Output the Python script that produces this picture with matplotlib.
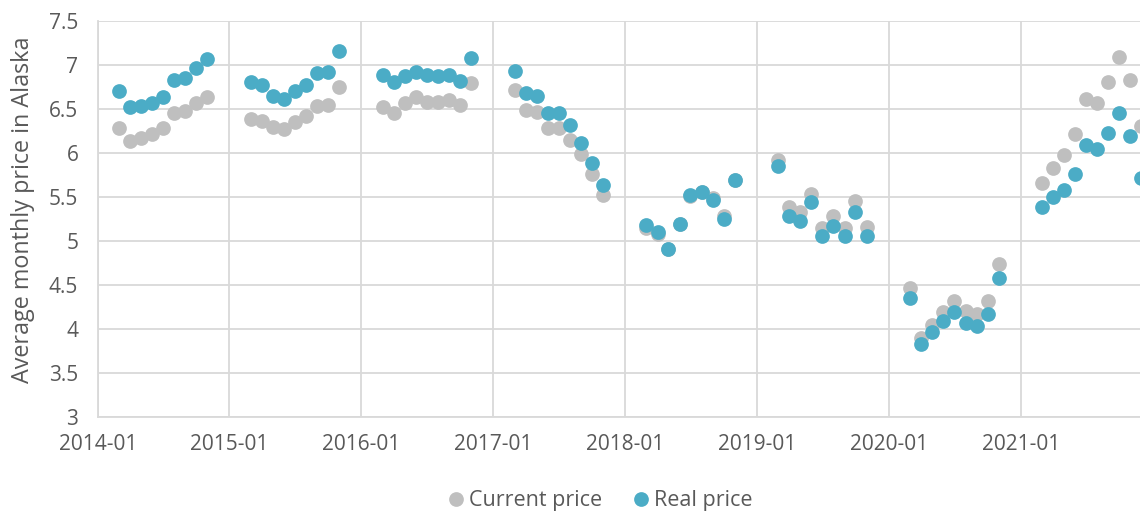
import matplotlib
matplotlib.use("Agg")
import matplotlib.pyplot as plt
from matplotlib.lines import Line2D
import datetime as dt

years = [2014, 2015, 2016, 2017, 2018, 2019, 2020, 2021]
months_regular = [3, 4, 5, 6, 7, 8, 9, 10, 11]
months_2021 = [3, 4, 5, 6, 7, 8, 9, 10, 11, 12]

current_price = {
    2014: [6.28, 6.13, 6.17, 6.21, 6.28, 6.45, 6.48, 6.57, 6.63],
    2015: [6.38, 6.36, 6.29, 6.27, 6.35, 6.42, 6.53, 6.54, 6.75],
    2016: [6.52, 6.45, 6.56, 6.63, 6.58, 6.58, 6.60, 6.54, 6.79],
    2017: [6.71, 6.49, 6.46, 6.28, 6.28, 6.15, 5.99, 5.76, 5.52],
    2018: [5.15, 5.08, 4.91, 5.19, 5.51, 5.56, 5.49, 5.28, 5.69],
    2019: [5.92, 5.38, 5.33, 5.53, 5.15, 5.28, 5.15, 5.45, 5.16],
    2020: [4.47, 3.90, 4.04, 4.19, 4.32, 4.20, 4.17, 4.32, 4.74],
    2021: [5.66, 5.83, 5.97, 6.21, 6.61, 6.56, 6.80, 7.09, 6.83, 6.30],
}
real_price = {
    2014: [6.70, 6.52, 6.53, 6.56, 6.63, 6.83, 6.85, 6.96, 7.07],
    2015: [6.80, 6.77, 6.65, 6.61, 6.70, 6.77, 6.91, 6.92, 7.16],
    2016: [6.88, 6.80, 6.87, 6.92, 6.88, 6.87, 6.88, 6.82, 7.08],
    2017: [6.93, 6.68, 6.64, 6.45, 6.45, 6.31, 6.11, 5.88, 5.63],
    2018: [5.18, 5.10, 4.91, 5.19, 5.52, 5.55, 5.46, 5.25, 5.69],
    2019: [5.85, 5.28, 5.23, 5.44, 5.05, 5.17, 5.05, 5.33, 5.05],
    2020: [4.35, 3.83, 3.97, 4.09, 4.19, 4.07, 4.03, 4.17, 4.58],
    2021: [5.38, 5.50, 5.58, 5.76, 6.09, 6.04, 6.23, 6.45, 6.19, 5.71],
}

y_ticks = [3, 3.5, 4, 4.5, 5, 5.5, 6, 6.5, 7, 7.5]
y_tick_labels = ["3", "3.5", "4", "4.5", "5", "5.5", "6", "6.5", "7", "7.5"]
x_tick_years = years
x_tick_labels = [f"{y}-01" for y in years]

dates, cur, real = [], [], []
for y in years:
    ms = months_2021 if y == 2021 else months_regular
    for m, c, r in zip(ms, current_price[y], real_price[y]):
        dates.append(dt.date(y, m, 1))
        cur.append(c)
        real.append(r)

plt.rcParams['font.family'] = ['Open Sans', 'DejaVu Sans']
GRAY = "#BFBFBF"
BLUE = "#4BACC6"
GRID = "#D9D9D9"
TXT = "#595959"

fig = plt.figure(figsize=(11.4, 5.13), dpi=100)
W, H = 1140, 513
left_px, right_px, top_px, bot_px = 97.7, 1152.5, 20.7, 417.0
ax = fig.add_axes([left_px / W, 1 - bot_px / H, (right_px - left_px) / W, (bot_px - top_px) / H])

ms = 10.6
ax.plot(dates, cur, linestyle="none", marker="o", markersize=ms, color=GRAY,
        markeredgewidth=0, label="Current price", zorder=3)
ax.plot(dates, real, linestyle="none", marker="o", markersize=ms, color=BLUE,
        markeredgewidth=0, label="Real price", zorder=4)

ax.set_xlim(dt.date(2014, 1, 1), dt.date(2022, 1, 1))
ax.set_ylim(3, 7.5)
ax.set_yticks(y_ticks)
ax.set_yticklabels(y_tick_labels)
ax.set_xticks([dt.date(y, 1, 1) for y in x_tick_years])
ax.set_xticklabels(x_tick_labels)

ax.grid(True, color=GRID, linewidth=1.3, zorder=0)
ax.set_axisbelow(True)
for s in ["top", "right"]:
    ax.spines[s].set_visible(False)
for s in ["left", "bottom"]:
    ax.spines[s].set_color(GRID)
    ax.spines[s].set_linewidth(1.3)

ax.tick_params(axis="both", length=0, labelsize=15, colors=TXT)
ax.tick_params(axis="y", pad=14)
ax.tick_params(axis="x", pad=12)

fig.text(23 / W, 1 - 210 / H, "Average monthly price in Alaska", rotation=90,
         ha="center", va="center", fontsize=16.8, color=TXT)

handles = [
    Line2D([], [], linestyle="none", marker="o", markersize=ms, color=GRAY, markeredgewidth=0),
    Line2D([], [], linestyle="none", marker="o", markersize=ms, color=BLUE, markeredgewidth=0),
]
fig.legend(handles, ["Current price", "Real price"], loc="center",
           bbox_to_anchor=(601 / W, 1 - 500.7 / H), ncol=2, frameon=False,
           fontsize=15.5, handlelength=0.6, handletextpad=0.3, columnspacing=1.5,
           labelcolor=TXT)

fig.savefig("out.png", dpi=100)
